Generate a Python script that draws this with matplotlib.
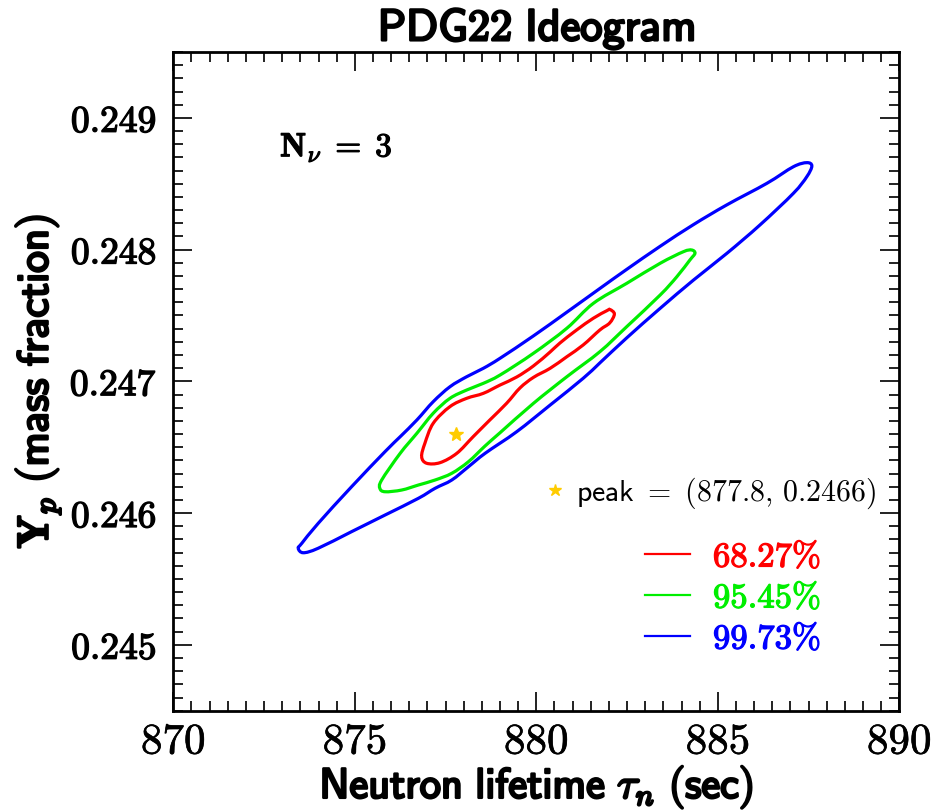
import numpy as np
import matplotlib
matplotlib.use("Agg")
import matplotlib.pyplot as plt
from matplotlib.ticker import MultipleLocator
from matplotlib.lines import Line2D
from matplotlib.path import Path
from matplotlib.patches import PathPatch
import matplotlib.patheffects as pe

plt.rcParams['mathtext.fontset'] = 'cm'

# ---- contour data (tau_n in s, Y_p) ----
red_tau = [876.84, 876.98, 877.35, 877.81, 878.26, 878.72, 879.18, 879.55, 879.92,
           880.38, 880.84, 881.29, 881.75, 882.02, 882.15, 882.03, 881.94, 881.57,
           881.11, 880.65, 880.38, 879.92, 879.46, 879.00, 878.54, 878.08, 877.62,
           877.16, 876.93]
red_yp = [0.246428, 0.246378, 0.246383, 0.246454, 0.246580, 0.246707, 0.246833, 0.246950, 0.247030,
          0.247099, 0.247187, 0.247276, 0.247390, 0.247443, 0.247511, 0.247545, 0.247536, 0.247479,
          0.247390, 0.247291, 0.247223, 0.247117, 0.247033, 0.246972, 0.246909, 0.246871, 0.246808,
          0.246682, 0.246530]

green_tau = [875.69, 875.83, 876.29, 876.75, 877.21, 877.67, 878.13, 878.59, 879.00,
             879.92, 880.84, 881.75, 882.49, 883.41, 883.87, 884.23, 884.37, 884.28,
             884.05, 883.41, 882.49, 881.57, 880.84, 879.92, 879.00, 878.54, 878.08,
             877.62, 877.16, 876.71, 876.25, 875.74]
green_yp = [0.246188, 0.246162, 0.246175, 0.246213, 0.246251, 0.246302, 0.246390, 0.246510, 0.246610,
            0.246833, 0.247035, 0.247225, 0.247415, 0.247655, 0.247794, 0.247921, 0.247972, 0.247997,
            0.247984, 0.247896, 0.247744, 0.247592, 0.247403, 0.247213, 0.247048, 0.246985, 0.246934,
            0.246871, 0.246758, 0.246606, 0.246454, 0.246251]

blue_tau = [873.44, 873.58, 873.99, 874.91, 875.83, 876.75, 877.21, 877.67, 878.13,
            878.59, 879.46, 880.38, 881.29, 881.75, 882.49, 883.41, 884.33, 885.25,
            886.16, 887.08, 887.45, 887.59, 887.45, 887.08, 886.35, 885.25, 884.33,
            883.41, 882.49, 881.75, 880.84, 879.92, 879.00, 878.54, 878.08, 877.62,
            877.16, 876.71, 876.25, 875.83, 874.91, 873.99, 873.54]
blue_yp = [0.245733, 0.245699, 0.245733, 0.245859, 0.245985, 0.246112, 0.246188, 0.246251, 0.246352,
           0.246454, 0.246618, 0.246820, 0.247023, 0.247140, 0.247330, 0.247554, 0.247769, 0.247972,
           0.248187, 0.248427, 0.248553, 0.248635, 0.248660, 0.248629, 0.248503, 0.248340, 0.248190,
           0.248025, 0.247850, 0.247705, 0.247525, 0.247345, 0.247175, 0.247099, 0.247035, 0.246959,
           0.246846, 0.246707, 0.246580, 0.246466, 0.246200, 0.245922, 0.245771]

peak_tau = 877.8
peak_yp = 0.2466

cl_labels = ['68.27%', '95.45%', '99.73%']
cl_colors = ['#ff0000', '#00ee00', '#0000ff']

x_ticks = [870, 875, 880, 885, 890]
x_tick_labels = ['870', '875', '880', '885', '890']
y_ticks = [0.245, 0.246, 0.247, 0.248, 0.249]
y_tick_labels = ['0.245', '0.246', '0.247', '0.248', '0.249']


def smooth_loop(xs, ys):
    # closed curve through the read points (Catmull-Rom as cubic Bezier)
    p = np.column_stack([xs, ys])
    n = len(p)
    verts = [p[0]]
    codes = [Path.MOVETO]
    for i in range(n):
        p0, p1, p2, p3 = p[i - 1], p[i], p[(i + 1) % n], p[(i + 2) % n]
        verts += [p1 + (p2 - p0) / 6, p2 - (p3 - p1) / 6, p2]
        codes += [Path.CURVE4] * 3
    return Path(verts, codes)


def heavy(w, c='black'):
    return [pe.withStroke(linewidth=w, foreground=c)]


fig = plt.figure(figsize=(9.37, 8.1), dpi=100)
ax = fig.add_axes([0.185, 0.1226, 0.7748, 0.8132])

handles = []
for xs, ys, c in zip([red_tau, green_tau, blue_tau], [red_yp, green_yp, blue_yp], cl_colors):
    ax.add_patch(PathPatch(smooth_loop(xs, ys), fill=False, edgecolor=c, lw=2.3))
    handles.append(Line2D([], [], color=c, lw=1.6))

star, = ax.plot([peak_tau], [peak_yp], marker='*', color='#ffcc00', ms=10, ls='none')

ax.set_xlim(870, 890)
ax.set_ylim(0.2445, 0.2495)
ax.set_xticks(x_ticks, labels=[r'$%s$' % s for s in x_tick_labels])
ax.set_yticks(y_ticks, labels=[r'$\mathbf{%s}$' % s for s in y_tick_labels])
ax.xaxis.set_minor_locator(MultipleLocator(0.5))
ax.yaxis.set_minor_locator(MultipleLocator(0.0001))
ax.tick_params(which='both', direction='in', top=True, right=True, width=1.4, color='#222222')
ax.tick_params(which='major', length=14)
ax.tick_params(which='minor', length=7)
ax.tick_params(axis='x', labelsize=31, pad=7)
ax.tick_params(axis='y', labelsize=27, pad=12)
for lab in ax.get_xticklabels():
    lab.set_path_effects(heavy(0.5))
for lab in ax.get_yticklabels():
    lab.set_path_effects(heavy(1.0))
for s in ax.spines.values():
    s.set_linewidth(2)

t = ax.set_title(r'$\mathsf{PDG22\ Ideogram}$', fontsize=32, pad=8)
t.set_path_effects(heavy(1.8))
xl = ax.set_xlabel(r'$\mathsf{Neutron\ lifetime}\ \tau_n\ \mathsf{(sec)}$', fontsize=30.5, labelpad=1)
xl.set_path_effects(heavy(1.8))
yl = ax.set_ylabel(r'$\mathbf{Y}_p\ \mathsf{(mass\ fraction)}$', fontsize=31, labelpad=5)
yl.set_path_effects(heavy(1.8))

nt = ax.text(0.147, 0.855, r'$\mathbf{N}_{\nu}\;=\;\mathbf{3}$', transform=ax.transAxes,
             fontsize=24, va='center', ha='left')
nt.set_path_effects(heavy(0.9))

leg1 = ax.legend([star], [r'$\mathsf{peak}\ =\ (\mathsf{%.1f},\, \mathsf{%.4f})$' % (peak_tau, peak_yp)],
                 loc='center left', bbox_to_anchor=(0.505, 0.330), frameon=False,
                 fontsize=21.5, handlelength=1.0, handletextpad=0.2, borderpad=0,
                 borderaxespad=0, markerscale=0.9)
ax.add_artist(leg1)
leg2 = ax.legend(handles, [r'$\mathbf{%s}$' % s.replace('%', r'\%') for s in cl_labels],
                 loc='center left', bbox_to_anchor=(0.65, 0.172), frameon=False,
                 fontsize=25, handlelength=1.3, handletextpad=0.65, labelspacing=0.2,
                 borderpad=0, borderaxespad=0, labelcolor='linecolor')
for txt, c in zip(leg2.get_texts(), cl_colors):
    txt.set_path_effects(heavy(0.9, c))

fig.savefig('out.png', dpi=100)
